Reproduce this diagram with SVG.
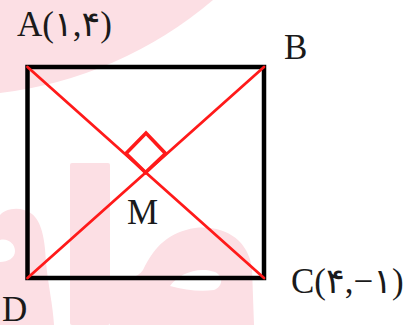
<svg xmlns="http://www.w3.org/2000/svg" width="420" height="325" viewBox="0 0 420 325">
<style>
.wm{fill:#fcdfe4;stroke:none}
.side{fill:none;stroke:#000;stroke-width:4.5;stroke-linejoin:miter}
.diag{stroke:#ff1a1a;stroke-width:2.8;fill:none;stroke-linecap:round}
.ra{stroke:#ff1a1a;stroke-width:3.6;fill:none;stroke-linejoin:miter}
.lbl{font-family:"Liberation Serif","DejaVu Sans",serif;font-size:35px;fill:#1a1a1a}
</style>
<rect width="420" height="325" fill="#fff"/>
<g id="watermark">
<path class="wm" d="M0,0 L213,0 A402,402 0 0 1 0,93 Z"/>
<rect class="wm" x="70" y="163" width="40" height="162" rx="2"/>
<path class="wm" fill-rule="evenodd" d="M0,215 C5,209 20,205 32,214 C42,222 45,240 46,262 C48,285 53,305 54,325 L0,325 Z M0,240 C8,238 15,244 15,251 C15,258 8,262 0,262 Z"/>
<path class="wm" fill-rule="evenodd" d="M110,280 C125,280 138,278 143,270 C155,245 170,232 195,228 C225,225 248,240 252,268 L254,325 L110,325 Z M170,286 C178,274 198,266 215,272 C223,276 224,286 214,290 C200,292 185,290 170,286 Z"/>
</g>
<g id="square">
<rect class="side" x="27.5" y="67" width="236.5" height="211"/>
</g>
<g id="connectors">
<line class="diag" x1="27.5" y1="67" x2="264" y2="278"/>
<line class="diag" x1="264" y1="67" x2="27.5" y2="278"/>
<path class="ra" d="M145.5,172.5 L126,153.5 L146,133 L165.5,153.5 Z"/>
</g>
<g id="A"><text class="lbl" x="17" y="36">A(۱,۴)</text></g>
<g id="B"><text class="lbl" x="284" y="59">B</text></g>
<g id="M"><text class="lbl" x="127" y="224">M</text></g>
<g id="D"><text class="lbl" x="2" y="321">D</text></g>
<g id="C"><text class="lbl" x="291" y="293">C(۴,−۱)</text></g>
</svg>
